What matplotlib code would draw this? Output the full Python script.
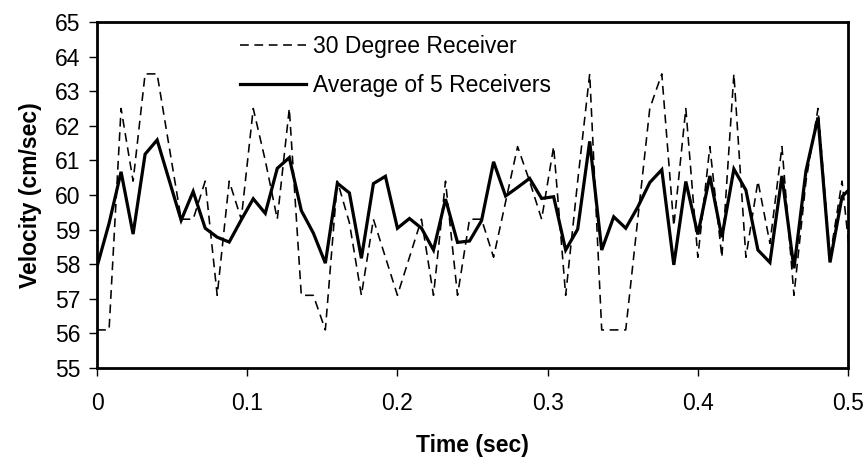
import matplotlib
matplotlib.use("Agg")
import matplotlib.pyplot as plt
from matplotlib.ticker import MultipleLocator

plt.rcParams['font.family'] = ['Liberation Sans', 'DejaVu Sans']

time_sec = [0.000, 0.008, 0.016, 0.024, 0.032, 0.040, 0.048, 0.056,
            0.064, 0.072, 0.080, 0.088, 0.096, 0.104, 0.112, 0.120,
            0.128, 0.136, 0.144, 0.152, 0.160, 0.168, 0.176, 0.184,
            0.192, 0.200, 0.208, 0.216, 0.224, 0.232, 0.240, 0.248,
            0.256, 0.264, 0.272, 0.280, 0.288, 0.296, 0.304, 0.312,
            0.320, 0.328, 0.336, 0.344, 0.352, 0.360, 0.368, 0.376,
            0.384, 0.392, 0.400, 0.408, 0.416, 0.424, 0.432, 0.440,
            0.448, 0.456, 0.464, 0.472, 0.480, 0.488, 0.496, 0.504]

receiver_30deg = [56.1, 56.1, 62.5, 60.4, 63.5, 63.5, 61.4, 59.3,
                  59.3, 60.4, 57.1, 60.4, 59.3, 62.5, 61.0, 59.3,
                  62.5, 57.1, 57.1, 56.1, 60.4, 59.2, 57.1, 59.3,
                  58.2, 57.1, 58.2, 59.3, 57.1, 60.4, 57.1, 59.3,
                  59.3, 58.2, 59.8, 61.4, 60.4, 59.3, 61.4, 57.1,
                  60.4, 63.5, 56.1, 56.1, 56.1, 59.3, 62.5, 63.5,
                  59.1, 62.5, 58.2, 61.4, 58.2, 63.5, 58.2, 60.4,
                  58.6, 61.4, 57.1, 60.4, 62.5, 58.2, 60.4, 57.1]

average_5 = [57.93, 59.18, 60.67, 58.87, 61.18, 61.59, 60.43, 59.27,
             60.10, 59.04, 58.78, 58.64, 59.28, 59.89, 59.47, 60.77,
             61.08, 59.55, 58.90, 58.03, 60.34, 60.06, 58.17, 60.33,
             60.54, 59.04, 59.32, 59.04, 58.41, 59.88, 58.63, 58.67,
             59.26, 60.96, 59.97, 60.22, 60.48, 59.90, 59.95, 58.41,
             59.01, 61.55, 58.41, 59.37, 59.04, 59.65, 60.36, 60.73,
             57.98, 60.39, 58.86, 60.55, 58.78, 60.75, 60.14, 58.41,
             58.05, 60.55, 57.88, 60.70, 62.24, 58.05, 59.95, 60.30]

series_labels = ["30 Degree Receiver", "Average of 5 Receivers"]
x_label = "Time (sec)"
y_label = "Velocity (cm/sec)"

fig = plt.figure(figsize=(8.68, 4.62), dpi=100)
ax = fig.add_axes([0.1118, 0.2035, 0.977 - 0.1118, 0.9524 - 0.2035])

l1, = ax.plot(time_sec, receiver_30deg, color='black', lw=1.15,
              label=series_labels[0])
l1.set_dashes([5.5, 3.5])
ax.plot(time_sec, average_5, color='black', lw=2.3, label=series_labels[1],
        solid_joinstyle='miter')

ax.set_xlim(0, 0.5)
ax.set_ylim(55, 65)
ax.xaxis.set_major_locator(MultipleLocator(0.1))
ax.yaxis.set_major_locator(MultipleLocator(1))
ax.xaxis.set_major_formatter(plt.FuncFormatter(lambda v, p: f"{v:g}"))

for s in ax.spines.values():
    s.set_linewidth(2.0)
    s.set_color('black')

ax.tick_params(axis='both', direction='out', labelsize=16.5, colors='black',
               width=1.0)
ax.tick_params(axis='y', length=6, pad=6)
ax.tick_params(axis='x', length=6, pad=11)

ax.set_xlabel(x_label, fontsize=16.5, fontweight='bold')
ax.set_ylabel(y_label, fontsize=16.5, fontweight='bold')
ax.xaxis.set_label_coords(0.5, -0.19)
ax.yaxis.set_label_coords(-0.073, 0.5)

ax.legend(loc='upper left', bbox_to_anchor=(0.19, 0.962), frameon=False,
          fontsize=16.5, handlelength=2.9, handletextpad=0.3,
          borderpad=0, borderaxespad=0, labelspacing=0.68)

fig.savefig("out.png", dpi=100, facecolor='white')
